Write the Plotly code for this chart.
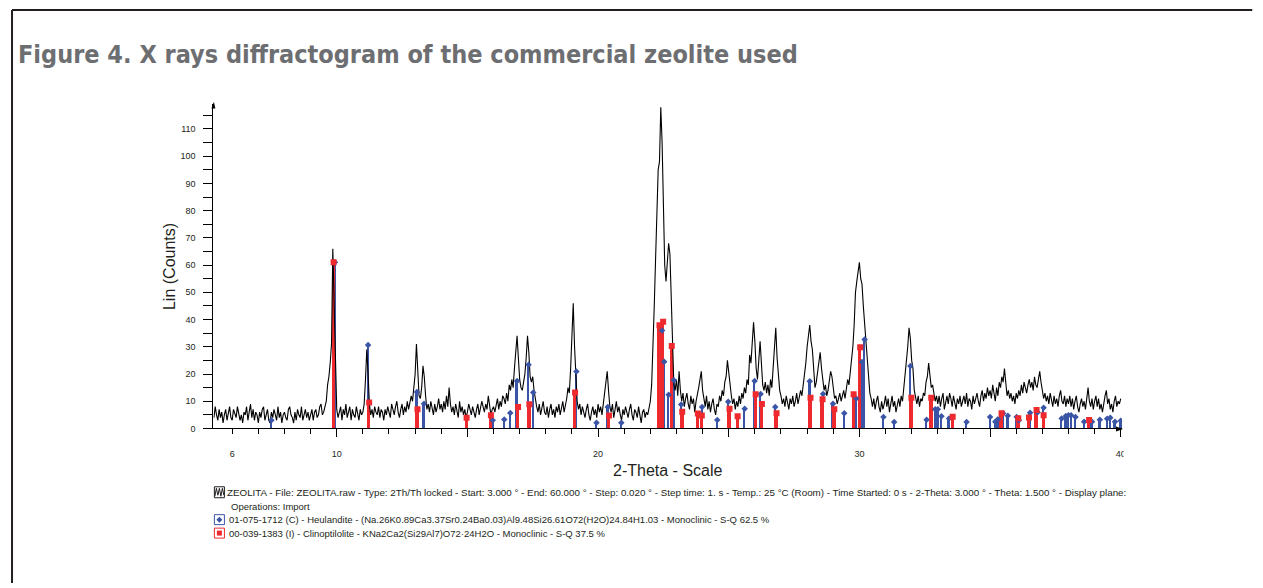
import plotly.graph_objects as go

# ---- measured pattern: counts every 0.05 deg 2-theta, from 5.30 to 40.00 ----
theta_start = 5.30
theta_step = 0.05
counts = [
    4, 8, 5, 3, 7, 4, 6, 2, 5, 7, 3, 6, 8, 4,                                   # 5.30-5.95
    3, 7, 5, 4, 8, 6, 3, 5, 2, 6, 5, 8, 3, 6, 9, 4, 7, 3, 6, 5,                 # 6
    2, 6, 4, 7, 8, 3, 5, 7, 3, 2, 6, 4, 7, 5, 3, 8, 4, 6, 2, 5,                 # 7
    6, 4, 3, 7, 8, 5, 4, 2, 6, 3, 7, 5, 4, 8, 3, 5, 7, 4, 6, 3,                 # 8
    5, 7, 3, 6, 7, 4, 5, 8, 9, 5, 6, 8, 10, 16, 19, 24, 31, 66, 42, 21,         # 9
    7, 4, 6, 8, 3, 7, 5, 9, 4, 6, 8, 3, 7, 5, 4, 8, 6, 3, 7, 5,                 # 10
    6, 9, 18, 29, 20, 9, 5, 7, 4, 8, 6, 5, 8, 4, 7, 6, 3, 7, 5, 8,              # 11
    6, 4, 9, 7, 5, 8, 10, 6, 4, 7, 9, 5, 8, 6, 10, 7, 9, 12, 10, 14,            # 12
    20, 31, 18, 12, 11, 15, 23, 19, 12, 7, 9, 6, 10, 7, 5, 9, 6, 8, 11, 7,      # 13
    9, 6, 10, 7, 12, 8, 15, 9, 6, 8, 5, 9, 7, 4, 10, 6, 8, 5, 7, 4,             # 14
    6, 9, 7, 5, 8, 6, 4, 7, 9, 5, 7, 10, 8, 6, 9, 7, 12, 8, 5, 7,               # 15
    8, 6, 9, 11, 7, 10, 8, 12, 11, 9, 13, 10, 16, 14, 18, 15, 22, 28, 34, 26,   # 16
    18, 15, 14, 17, 20, 26, 34, 28, 19, 17, 19, 14, 10, 8, 6, 9, 5, 8, 10, 6,   # 17
    5, 8, 4, 7, 9, 5, 7, 4, 8, 6, 9, 5, 7, 10, 6, 8, 11, 15, 13, 22,            # 18
    35, 46, 30, 18, 10, 7, 9, 5, 8, 6, 4, 7, 9, 5, 3, 6, 8, 5, 7, 4,            # 19
    9, 6, 8, 5, 9, 12, 15, 21, 14, 8, 6, 9, 4, 7, 10, 6, 8, 5, 3, 7,            # 20
    5, 8, 6, 4, 7, 9, 5, 3, 7, 6, 4, 8, 5, 2, 6, 7, 4, 6, 5, 8,                 # 21
    10, 16, 28, 45, 62, 85, 95, 98, 118, 105, 84, 60, 54, 62, 68, 64, 49, 30, 16, 14,  # 22
    18, 12, 21, 14, 10, 13, 8, 11, 13, 9, 7, 12, 9, 11, 6, 10, 12, 15, 18, 21,  # 23
    14, 11, 8, 12, 7, 10, 6, 9, 11, 7, 5, 9, 8, 12, 10, 14, 12, 17, 19, 25,     # 24
    20, 16, 12, 9, 11, 7, 10, 8, 12, 9, 13, 11, 15, 13, 18, 16, 27, 24, 33, 39, # 25
    32, 22, 18, 25, 32, 24, 16, 14, 17, 13, 16, 12, 18, 15, 22, 30, 37, 26, 20, 14,  # 26
    12, 9, 11, 8, 12, 10, 7, 11, 9, 12, 8, 10, 13, 9, 11, 14, 12, 16, 18, 24,   # 27
    30, 35, 38, 32, 29, 22, 15, 17, 21, 25, 28, 22, 17, 14, 16, 12, 14, 17, 21, 19,  # 28
    14, 11, 12, 9, 11, 13, 10, 12, 14, 11, 15, 18, 16, 21, 24, 30, 38, 50, 54, 57,   # 29
    61, 55, 53, 45, 39, 30, 24, 18, 13, 11, 8, 11, 7, 10, 12, 8, 6, 10, 7, 9,   # 30
    12, 8, 11, 6, 9, 12, 8, 10, 6, 9, 11, 8, 12, 10, 15, 19, 25, 30, 37, 33,    # 31
    25, 22, 14, 11, 9, 12, 8, 11, 10, 13, 12, 17, 19, 24, 20, 15, 16, 12, 10, 12,    # 32
    9, 12, 8, 11, 13, 7, 10, 12, 9, 13, 11, 8, 12, 10, 7, 11, 9, 12, 8, 10,     # 33
    12, 9, 13, 8, 11, 10, 7, 12, 9, 11, 13, 10, 8, 12, 14, 10, 13, 11, 15, 12,  # 34
    14, 11, 16, 13, 10, 15, 12, 17, 15, 19, 17, 22, 16, 12, 14, 11, 13, 10, 12, 9,   # 35
    13, 11, 14, 12, 16, 13, 17, 15, 13, 16, 18, 15, 17, 14, 19, 16, 15, 18, 21, 17,  # 36
    14, 11, 13, 10, 12, 9, 13, 10, 8, 12, 9, 11, 8, 12, 14, 10, 9, 12, 8, 11,   # 37
    9, 12, 8, 11, 7, 10, 12, 8, 6, 9, 11, 8, 10, 7, 11, 15, 10, 8, 11, 7,       # 38
    10, 12, 8, 11, 7, 9, 6, 10, 12, 14, 9, 11, 7, 9, 6, 10, 12, 8, 10, 9,       # 39
    11,                                                                         # 40.00
]
two_theta = [round(theta_start + i * theta_step, 2) for i in range(len(counts))]

# ---- reference pattern 01-075-1712 (C) Heulandite ----
heul_pos = [7.50, 9.93, 11.20, 13.07, 13.34, 15.97, 16.41, 16.64, 16.90, 17.34,
            17.52, 19.17, 19.94, 20.37, 20.89, 22.45, 22.53, 22.70, 22.90, 23.18,
            23.98, 24.56, 24.98, 25.61, 25.99, 26.22, 26.78, 28.10, 28.61, 28.99,
            29.42, 29.88, 30.10, 30.20, 30.92, 31.33, 31.95, 32.57, 32.90, 33.00,
            33.14, 33.43, 34.10, 35.00, 35.20, 35.30, 35.50, 35.68, 36.02, 36.10,
            36.53, 36.82, 37.05, 37.74, 37.90, 38.00, 38.10, 38.27, 38.60, 38.90,
            39.20, 39.48, 39.60, 39.78, 40.00]
heul_int = [3.0, 61.0, 30.7, 13.4, 9.1, 3.0, 3.3, 5.7, 17.4, 23.4,
            13.2, 20.9, 2.1, 7.9, 2.1, 36.0, 24.5, 12.4, 17.7, 8.8,
            7.9, 3.1, 9.8, 7.2, 17.4, 12.7, 7.9, 17.3, 12.7, 9.1,
            5.6, 11.0, 24.4, 32.7, 4.2, 2.4, 22.9, 3.2, 7.1, 7.1,
            4.5, 3.7, 2.4, 4.2, 2.5, 3.4, 5.6, 4.7, 4.2, 3.0,
            5.8, 6.0, 7.6, 3.7, 4.6, 4.9, 4.9, 4.2, 2.5, 2.5,
            3.2, 3.6, 3.9, 2.5, 2.8]

# ---- reference pattern 00-039-1383 (I) Clinoptilolite ----
clin_pos = [9.88, 11.24, 13.09, 14.97, 15.90, 16.94, 17.37, 19.12, 20.42, 22.35,
            22.49, 22.82, 23.22, 23.82, 23.97, 25.03, 25.34, 26.03, 26.27, 26.83,
            28.13, 28.59, 29.04, 29.78, 30.03, 31.99, 32.75, 33.57, 35.44, 36.08,
            36.49, 36.78, 37.05, 38.79]
clin_int = [61.0, 9.5, 7.1, 3.9, 4.9, 7.9, 8.9, 13.2, 4.8, 37.9,
            39.2, 30.3, 6.1, 5.5, 4.8, 7.2, 4.5, 12.6, 9.0, 5.6,
            11.3, 10.7, 7.1, 12.6, 29.8, 11.3, 11.3, 4.3, 5.6, 3.8,
            4.0, 6.8, 4.9, 3.1]

x_ticks_labeled = [6, 10, 20, 30, 40]
y_ticks = list(range(0, 111, 10))

title_text = "Figure 4. X rays diffractogram of the commercial zeolite used"
legend_lines = [
    "ZEOLITA - File: ZEOLITA.raw - Type: 2Th/Th locked - Start: 3.000 ° - End: 60.000 ° - "
    "Step: 0.020 ° - Step time: 1. s - Temp.: 25 °C (Room) - Time Started: 0 s - "
    "2-Theta: 3.000 ° - Theta: 1.500 ° - Display plane:",
    "Operations: Import",
    "01-075-1712 (C) - Heulandite - (Na.26K0.89Ca3.37Sr0.24Ba0.03)Al9.48Si26.61O72(H2O)24.84H1.03"
    " - Monoclinic - S-Q 62.5 %",
    "00-039-1383 (I) - Clinoptilolite - KNa2Ca2(Si29Al7)O72·24H2O - Monoclinic - S-Q 37.5 %",
]
legend_sizes = [9.8, 9.5, 9.5, 9.5]

BLUE = "#3b55a6"
RED = "#ee2a2e"
W, H = 1263, 588
S = 1.005  # page layout grid, in page pixels


def px(x):
    return min(x * S / W, 1.0)


def py(y):
    return max(1 - y * S / H, 0.0)


fig = go.Figure()

fig.add_trace(go.Scatter(x=two_theta, y=counts, mode="lines",
                         line=dict(color="#000000", width=1.1), hoverinfo="skip"))

fig.add_trace(go.Bar(x=heul_pos, y=heul_int, width=0.09,
                     marker=dict(color=BLUE, line=dict(width=0))))
fig.add_trace(go.Bar(x=clin_pos, y=clin_int, width=0.13,
                     marker=dict(color=RED, line=dict(width=0))))
fig.add_trace(go.Scatter(x=heul_pos, y=heul_int, mode="markers",
                         marker=dict(symbol="diamond", size=5, color=BLUE)))
fig.add_trace(go.Scatter(x=clin_pos, y=clin_int, mode="markers",
                         marker=dict(symbol="square", size=6, color=RED)))
# carrier for the labelled x axis
fig.add_trace(go.Scatter(x=[6], y=[0], xaxis="x2", mode="markers",
                         marker=dict(opacity=0), hoverinfo="skip"))

x_range = [5.28, 40.05]
x_dom = [px(213), px(1120)]

fig.update_layout(
    width=W, height=H,
    margin=dict(l=0, r=0, t=0, b=0),
    paper_bgcolor="white", plot_bgcolor="white",
    showlegend=False, barmode="overlay", bargap=0,
    font=dict(family="Liberation Sans, Arial, sans-serif", color="#231f20"),
    xaxis=dict(
        domain=x_dom, range=x_range, anchor="y",
        showgrid=False, zeroline=False,
        showline=True, linecolor="#000", linewidth=1,
        tick0=0, dtick=5, ticks="outside", ticklen=8, tickcolor="#000",
        showticklabels=False,
        minor=dict(dtick=1, tick0=0, ticks="outside", ticklen=5, tickcolor="#000"),
    ),
    xaxis2=dict(
        domain=x_dom, range=x_range, anchor="y", overlaying="x", side="bottom",
        showgrid=False, zeroline=False, showline=False,
        tickmode="array", tickvals=x_ticks_labeled,
        ticks="outside", ticklen=17, tickcolor="rgba(0,0,0,0)",
        tickfont=dict(size=9, color="#231f20"),
        title=dict(text="2-Theta - Scale", font=dict(size=16, color="#231f20"), standoff=6),
    ),
    yaxis=dict(
        domain=[py(430), py(104.8)], range=[0, 119],
        showgrid=False, zeroline=False,
        showline=True, linecolor="#000", linewidth=1,
        tickmode="array", tickvals=y_ticks,
        ticks="outside", ticklen=9, tickcolor="#000",
        tickfont=dict(size=9, color="#231f20"),
        ticklabelstandoff=6,
        minor=dict(dtick=5, tick0=0, ticks="outside", ticklen=9, tickcolor="#000"),
        title=dict(text="Lin (Counts)", font=dict(size=16, color="#231f20"), standoff=0),
    ),
)

shapes = [
    # outer frame (left and top edges)
    dict(type="line", xref="paper", yref="paper", x0=px(12), x1=px(12), y0=py(10), y1=0,
         line=dict(color="#231f20", width=2)),
    dict(type="line", xref="paper", yref="paper", x0=px(12), x1=px(1250), y0=py(10), y1=py(10),
         line=dict(color="#231f20", width=2)),
    # axis arrow heads
    dict(type="path", xref="paper", yref="paper",
         path=f"M {px(211)},{py(109)} L {px(213.5)},{py(102)} L {px(215)},{py(109)} Z",
         fillcolor="#000", line=dict(width=0)),
    dict(type="path", xref="paper", yref="paper",
         path=f"M {px(1114)},{py(428)} L {px(1121)},{py(430.5)} L {px(1114)},{py(433)} Z",
         fillcolor="#000", line=dict(width=0)),
    # right border of the plotted strip trims the last tick label
    dict(type="rect", xref="paper", yref="paper", x0=px(1121.5), x1=px(1150), y0=py(466),
         y1=py(442), fillcolor="white", line=dict(width=0), layer="above"),
]

# legend glyphs
ly = [494, 508, 521.5, 535]
gx0, gx1 = 214, 224
# scan glyph: box with a small trace inside
shapes.append(dict(type="rect", xref="paper", yref="paper", x0=px(gx0), x1=px(gx1),
                   y0=py(ly[0] + 5.5), y1=py(ly[0] - 5.5), line=dict(color="#231f20", width=1)))
wave = [(214.5, 4), (216, -4), (217.5, 3), (219, -4), (220.5, 4), (222, -4), (223.5, 3)]
path = "M " + " L ".join(f"{px(x)},{py(ly[0] + d)}" for x, d in wave)
shapes.append(dict(type="path", xref="paper", yref="paper", path=path,
                   line=dict(color="#231f20", width=1)))
# Heulandite glyph
shapes.append(dict(type="rect", xref="paper", yref="paper", x0=px(gx0), x1=px(gx1),
                   y0=py(ly[2] + 5), y1=py(ly[2] - 5), line=dict(color=BLUE, width=1)))
shapes.append(dict(type="path", xref="paper", yref="paper",
                   path=(f"M {px(219)},{py(ly[2] - 3)} L {px(222)},{py(ly[2])} "
                         f"L {px(219)},{py(ly[2] + 3)} L {px(216)},{py(ly[2])} Z"),
                   fillcolor=BLUE, line=dict(width=0)))
# Clinoptilolite glyph
shapes.append(dict(type="rect", xref="paper", yref="paper", x0=px(gx0), x1=px(gx1),
                   y0=py(ly[3] + 5), y1=py(ly[3] - 5), line=dict(color=RED, width=1)))
shapes.append(dict(type="rect", xref="paper", yref="paper", x0=px(216.5), x1=px(221.5),
                   y0=py(ly[3] + 2.5), y1=py(ly[3] - 2.5), fillcolor=RED, line=dict(width=0)))

annotations = [
    dict(text=f"<b>{title_text}</b>", xref="paper", yref="paper", x=px(16), y=py(55),
         xanchor="left", yanchor="middle", showarrow=False,
         font=dict(family="DejaVu Sans Condensed, Liberation Sans Narrow, Roboto Condensed, Roboto",
                   size=25, color="#6d6e71")),
]
lx = [225, 229, 227, 227]
for text, x, y, size in zip(legend_lines, lx, ly, legend_sizes):
    annotations.append(dict(text=text, xref="paper", yref="paper", x=px(x), y=py(y),
                            xanchor="left", yanchor="middle", showarrow=False,
                            font=dict(size=size, color="#231f20")))

fig.update_layout(shapes=shapes, annotations=annotations)

fig.write_html(
    "out.html",
    post_script="document.documentElement.style.overflow='hidden';"
                "document.body.style.margin='0';document.body.style.overflow='hidden';",
)
